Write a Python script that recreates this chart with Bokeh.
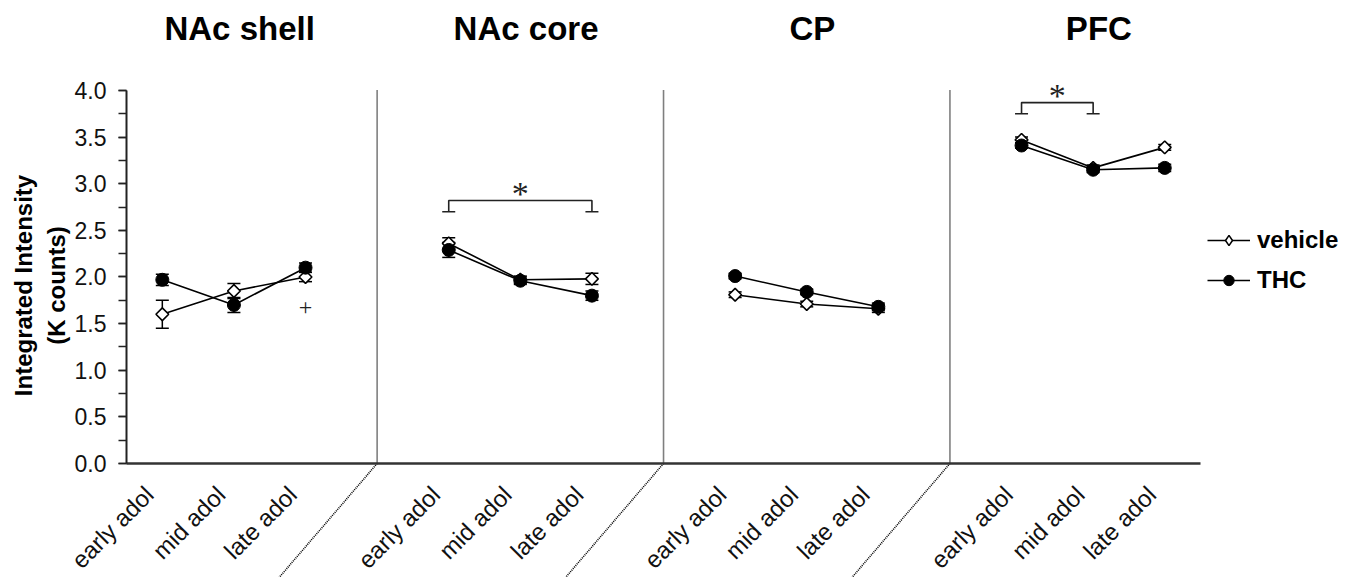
import math
from bokeh.plotting import figure
from bokeh.models import (LinearAxis, SingleIntervalTicker, FixedTicker, PrintfTickFormatter,
                          ColumnDataSource, Whisker, TeeHead, Legend, LegendItem)
from bokeh.core.properties import value
from bokeh.embed import file_html
from bokeh.resources import INLINE

# ---------------- data ----------------
regions = ["NAc shell", "NAc core", "CP", "PFC"]
ages = ["early adol", "mid adol", "late adol"]

vehicle_mean = [[1.60, 1.85, 2.00], [2.36, 1.97, 1.98], [1.81, 1.71, 1.66], [3.47, 3.17, 3.39]]
vehicle_sem = [[0.15, 0.08, 0.05], [0.06, 0.04, 0.06], [0.03, 0.03, 0.04], [0.03, 0.03, 0.03]]
thc_mean = [[1.97, 1.70, 2.10], [2.29, 1.96, 1.80], [2.01, 1.84, 1.68], [3.41, 3.15, 3.17]]
thc_sem = [[0.06, 0.08, 0.05], [0.08, 0.04, 0.05], [0.03, 0.03, 0.04], [0.03, 0.03, 0.04]]

# significance brackets: region index, from age, to age, bracket level
sig_region = [1, 3]
sig_from = [0, 0]
sig_to = [2, 1]
sig_level = [2.82, 3.87]

# "+" annotation
plus_region = [0]
plus_age = [2]
plus_value = [1.67]

y_ticks_max = 4.0

# ---------------- layout helpers ----------------
SLOT = 4  # positions per region (3 ages + gap)


def xpos(r, a):
    return SLOT * r + a


W, H = 1359, 577
X0, X1 = -2.26, 16.72
Y0, Y1 = -1.2225, 4.965
PXX = W / (X1 - X0)
PXY = H / (Y1 - Y0)
NAN = float("nan")

p = figure(width=W, height=H, x_range=(X0, X1), y_range=(Y0, Y1),
           output_backend="svg", toolbar_location=None, min_border=0,
           x_axis_location=None, y_axis_location=None)
p.outline_line_color = None
p.xgrid.visible = False
p.ygrid.visible = False
p.background_fill_color = "white"

FONT = "Liberation Sans"

# y axis
yax = LinearAxis(fixed_location=-0.5, bounds=(0, y_ticks_max),
                 ticker=SingleIntervalTicker(interval=0.5, num_minor_ticks=2),
                 formatter=PrintfTickFormatter(format="%.1f"))
yax.axis_line_width = 2
yax.axis_line_color = "#222222"
yax.major_tick_out = 8
yax.major_tick_in = 0
yax.minor_tick_out = 8
yax.minor_tick_in = 0
yax.major_tick_line_width = 1.5
yax.minor_tick_line_width = 1.5
yax.major_tick_line_color = "#222222"
yax.minor_tick_line_color = "#222222"
yax.major_label_text_font = FONT
yax.major_label_text_font_size = "23px"
yax.major_label_text_color = "#111111"
yax.major_label_standoff = 12
p.add_layout(yax, "left")

# x axis (line only; labels drawn below as rotated text through the same scale)
ticks = [xpos(r, a) for r in range(len(regions)) for a in range(len(ages))]
tick_labels = [ages[a] for r in range(len(regions)) for a in range(len(ages))]
xax = LinearAxis(fixed_location=0, bounds=(-0.5, SLOT * len(regions) - 1.5),
                 ticker=FixedTicker(ticks=ticks))
xax.axis_line_width = 2.5
xax.axis_line_color = "#333333"
xax.major_tick_out = 0
xax.major_tick_in = 0
xax.minor_tick_line_color = None
xax.major_label_text_alpha = 0
p.add_layout(xax, "below")

p.text(x=ticks, y=[0] * len(ticks), text=tick_labels, angle=math.pi / 4,
       text_align="right", text_baseline="middle", x_offset=-13, y_offset=27,
       text_font=value(FONT), text_font_size="24px", text_color="#111111")

# separators (dotted)
seps = [SLOT * r - 1 for r in range(1, len(regions))]
p.segment(x0=seps, y0=[0] * len(seps), x1=seps, y1=[y_ticks_max] * len(seps),
          line_color="black", line_width=1.6, line_dash="1 1")
slant = 1.369 / 1.2225
p.segment(x0=seps, y0=[0] * len(seps), x1=[s - slant * 1.5 for s in seps], y1=[-1.5] * len(seps),
          line_color="black", line_width=1.6, line_dash="1 1")

# series lines
def lines_for(means):
    xs = [[xpos(r, a) for a in range(len(ages))] for r in range(len(regions))]
    ys = [list(m) for m in means]
    return xs, ys

vxs, vys = lines_for(vehicle_mean)
txs, tys = lines_for(thc_mean)
veh_line = p.multi_line(xs=vxs, ys=vys, line_color="black", line_width=1.6)
thc_line = p.multi_line(xs=txs, ys=tys, line_color="black", line_width=1.6)


def flat(means, sems):
    x, y, lo, up = [], [], [], []
    for r in range(len(regions)):
        for a in range(len(ages)):
            x.append(xpos(r, a))
            y.append(means[r][a])
            lo.append(means[r][a] - sems[r][a])
            up.append(means[r][a] + sems[r][a])
    return ColumnDataSource(dict(x=x, y=y, lower=lo, upper=up))

vsrc = flat(vehicle_mean, vehicle_sem)
tsrc = flat(thc_mean, thc_sem)

for src in (vsrc, tsrc):
    w = Whisker(source=src, base="x", upper="upper", lower="lower",
                line_color="black", line_width=1.5,
                upper_head=TeeHead(size=13, line_width=1.5, line_color="black"),
                lower_head=TeeHead(size=13, line_width=1.5, line_color="black"))
    p.add_layout(w)

veh_pts = p.scatter(x="x", y="y", source=vsrc, marker="square", angle=math.pi / 4, size=9,
                    fill_color="white", line_color="black", line_width=1.6)
thc_pts = p.scatter(x="x", y="y", source=tsrc, marker="circle", size=13,
                    fill_color="black", line_color="black", line_width=1)

# legend-only marker renderers (legend glyphs ignore marker angle); NaN = nothing drawn in plot
veh_leg = p.scatter(x=[NAN], y=[NAN], marker="diamond", fill_color="white", line_color="black",
                    line_width=1.5)
thc_leg = p.scatter(x=[NAN], y=[NAN], marker="circle", fill_color="black", line_color="black")

# significance brackets
drop = 0.12
bx, by, fx, fy, ax_, ay_ = [], [], [], [], [], []
for r, a0, a1, lvl in zip(sig_region, sig_from, sig_to, sig_level):
    x0, x1 = xpos(r, a0), xpos(r, a1)
    bx.append([x0, x0, x1, x1])
    by.append([lvl - drop, lvl, lvl, lvl - drop])
    fx += [x0, x1]
    fy += [lvl - drop, lvl - drop]
    ax_.append((x0 + x1) / 2)
    ay_.append(lvl + 0.08)
p.multi_line(xs=bx, ys=by, line_color="#222222", line_width=1.6)
p.scatter(x=fx, y=fy, marker="dash", size=13, line_color="#222222", line_width=1.6)
p.text(x=ax_, y=ay_, text=["*"] * len(ax_), text_font=value("Liberation Serif"),
       text_font_size="34px", text_align="center", text_baseline="alphabetic", text_color="#222222")

# plus annotation
p.text(x=[xpos(r, a) for r, a in zip(plus_region, plus_age)], y=plus_value,
       text=["+"] * len(plus_value), text_font=value("Liberation Serif"), text_font_size="24px",
       text_align="center", text_baseline="middle", text_color="#222222")

# region titles
p.text(x=[xpos(r, 1) + 0.08 for r in range(len(regions))], y=[4.67] * len(regions), text=regions,
       text_font=value(FONT), text_font_style="bold", text_font_size="33px",
       text_align="center", text_baseline="alphabetic", text_color="black")

# y axis title (two lines)
p.text(x=[X0 + 23 / PXX, X0 + 56 / PXX], y=[(463 - 285) / PXY] * 2,
       text=["Integrated Intensity", "(K counts)"], angle=math.pi / 2,
       text_font=value(FONT), text_font_style="bold", text_font_size="24px",
       text_align="center", text_baseline="middle", text_color="black")

# legend
legend = Legend(items=[LegendItem(label="vehicle", renderers=[veh_line, veh_leg]),
                       LegendItem(label="THC", renderers=[thc_line, thc_leg])],
                location=(1207, 577 - 294), padding=0, margin=0, spacing=12,
                glyph_width=43, glyph_height=26, label_height=26, label_standoff=7,
                border_line_color=None, background_fill_alpha=0)
legend.label_text_font = FONT
legend.label_text_font_style = "bold"
legend.label_text_font_size = "24px"
legend.label_text_color = "black"
p.add_layout(legend)

open("out.html", "w").write(file_html(p, INLINE))
